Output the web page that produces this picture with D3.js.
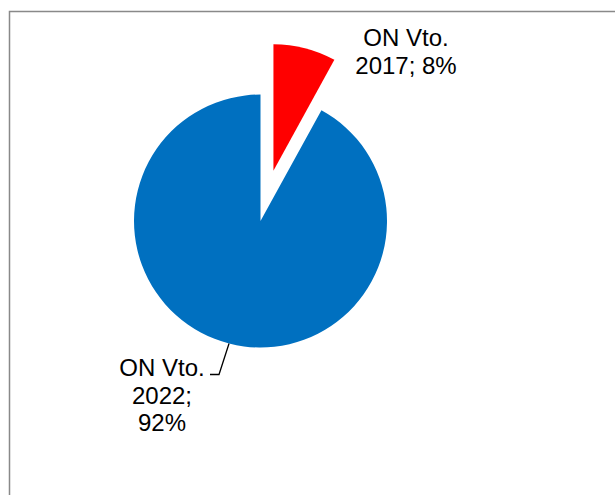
<!DOCTYPE html>
<html>
<head>
<meta charset="utf-8">
<script src="https://cdn.jsdelivr.net/npm/d3@7"></script>
<style>
  html, body { margin: 0; padding: 0; background: #fff; }
  svg { display: block; }
  .lbl { font-family: Arial, "Liberation Sans", sans-serif; font-size: 24px; fill: #000; }
</style>
</head>
<body>
<div id="chart"></div>
<script>
// data
var categories = ["ON Vto. 2017", "ON Vto. 2022"];
var values = [8, 92];
var colors = ["#FF0000", "#0070C0"];
var labelLines = [["ON Vto.", "2017; 8%"], ["ON Vto.", "2022;", "92%"]];

var width = 615, height = 495;
var cx = 260.5, cy = 221, radius = 126.5;
var explode = 52; // pull-out of first slice

var svg = d3.select("#chart").append("svg").attr("width", width).attr("height", height);

// chart area border (right and bottom run off the page)
svg.append("rect").attr("x", 9.5).attr("y", 11.5).attr("width", 640).attr("height", 520)
  .attr("fill", "none").attr("stroke", "#898989").attr("stroke-width", 1.5);

var pie = d3.pie().sort(null).value(function(d) { return d; });
var arc = d3.arc().innerRadius(0).outerRadius(radius);
var arcs = pie(values);

var g = svg.append("g").attr("transform", "translate(" + cx + "," + cy + ")");

g.selectAll("path.slice").data(arcs).enter().append("path")
  .attr("class", "slice")
  .attr("d", arc)
  .attr("fill", function(d, i) { return colors[i]; })
  .attr("transform", function(d, i) {
    if (i !== 0) return null;
    var a = (d.startAngle + d.endAngle) / 2;
    return "translate(" + (Math.sin(a) * explode) + "," + (-Math.cos(a) * explode) + ")";
  });

// labels
var labelPos = [{x: 406, y: 46}, {x: 162, y: 376}];
var lineH = 27.5;

labelLines.forEach(function(lines, i) {
  var t = svg.append("text").attr("class", "lbl").attr("text-anchor", "middle");
  lines.forEach(function(s, j) {
    t.append("tspan").attr("x", labelPos[i].x).attr("y", labelPos[i].y + j * lineH).text(s);
  });
});

// leader line for the big slice
var leadAngle = 194.4 * Math.PI / 180;
var edge = [cx + Math.sin(leadAngle) * radius, cy - Math.cos(leadAngle) * radius];
svg.append("polyline")
  .attr("points", [[210, 374.5], [219, 374.5], edge].map(function(p) { return p.join(","); }).join(" "))
  .attr("fill", "none").attr("stroke", "#000").attr("stroke-width", 1.3);
</script>
</body>
</html>
